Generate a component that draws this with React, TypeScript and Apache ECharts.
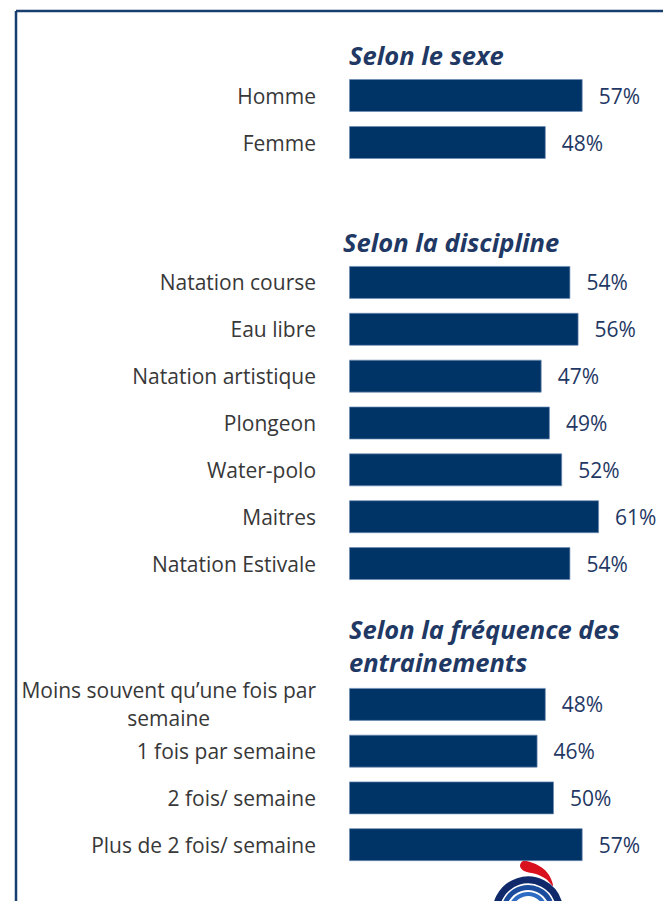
import React, { useEffect, useRef } from "react";
import * as echarts from "echarts";

const sexCategories = ["Homme", "Femme"];
const sexValues = [57, 48];

const disciplineCategories = [
  "Natation course",
  "Eau libre",
  "Natation artistique",
  "Plongeon",
  "Water-polo",
  "Maitres",
  "Natation Estivale",
];
const disciplineValues = [54, 56, 47, 49, 52, 61, 54];

const frequencyCategories = [
  "Moins souvent qu\u2019une fois par\nsemaine",
  "1 fois par semaine",
  "2 fois/ semaine",
  "Plus de 2 fois/ semaine",
];
const frequencyValues = [48, 46, 50, 57];

const sectionTitles = [
  "Selon le sexe",
  "Selon la discipline",
  "Selon la fr\u00e9quence des\nentrainements",
];

const FONT = "'Open Sans', 'Noto Sans', sans-serif";
const BAR = "#003366";
const NAVY = "#1F3864";
const GREY = "#383838";

export default function App() {
  const ref = useRef<HTMLDivElement>(null);

  useEffect(() => {
    if (!ref.current) return;
    const chart = echarts.init(ref.current, undefined, { renderer: "svg" });

    const sections = [
      { cats: sexCategories, vals: sexValues, top: 72, height: 94 },
      { cats: disciplineCategories, vals: disciplineValues, top: 259, height: 328 },
      { cats: frequencyCategories, vals: frequencyValues, top: 681, height: 187 },
    ];

    const grids = sections.map((s) => ({
      left: 349,
      width: 287,
      top: s.top,
      height: s.height,
      containLabel: false,
      outerBoundsMode: "none",
    }));

    const xAxes = sections.map((_, i) => ({
      type: "value",
      gridIndex: i,
      min: 0,
      max: 70,
      show: false,
    }));

    const yAxes = sections.map((s, i) => ({
      type: "category",
      gridIndex: i,
      inverse: true,
      data: s.cats,
      axisLine: { show: false },
      axisTick: { show: false },
      splitLine: { show: false },
      axisLabel: {
        margin: 33,
        color: GREY,
        fontSize: 21,
        fontFamily: FONT,
        formatter: (v: string) =>
          v
            .split("\n")
            .map((l) => `{c|${l}}`)
            .join("\n"),
        rich: {
          c: {
            align: "center",
            color: GREY,
            fontSize: 21,
            fontFamily: FONT,
            lineHeight: 28,
          },
        },
      },
    }));

    const series = sections.map((s, i) => ({
      type: "bar",
      xAxisIndex: i,
      yAxisIndex: i,
      data: s.vals,
      barWidth: 33,
      itemStyle: {
        color: BAR,
        borderColor: "rgba(110,140,180,0.7)",
        borderWidth: 1,
      },
      label: {
        show: true,
        position: "right",
        distance: 16,
        formatter: "{c}%",
        color: NAVY,
        fontSize: 21,
        fontFamily: FONT,
      },
    }));

    const titleTops = [38, 225, 612];
    const titleLefts = [349, 343, 349];
    const titles = sectionTitles.map((t, i) => ({
      text: t,
      left: titleLefts[i],
      top: titleTops[i],
      padding: 0,
      textStyle: {
        color: NAVY,
        fontSize: 25.5,
        fontWeight: "bold",
        fontStyle: "italic",
        fontFamily: FONT,
        lineHeight: 33,
      },
    }));

    const cx = 528;
    const cy = 912;
    const graphic = [
      {
        type: "line",
        shape: { x1: 16, y1: 11, x2: 663, y2: 11 },
        style: { stroke: "#173E6E", lineWidth: 2.5 },
      },
      {
        type: "line",
        shape: { x1: 16, y1: 11, x2: 16, y2: 901 },
        style: { stroke: "#173E6E", lineWidth: 2.5 },
      },
      {
        type: "polygon",
        shape: {
          points: [
            [520, 866],
            [523, 861],
            [530, 862],
            [541, 867],
            [549, 875],
            [553, 886],
            [546, 879],
            [536, 874],
            [524, 871],
          ],
          smooth: 0.35,
        },
        style: { fill: "#D9101E" },
      },
      {
        type: "arc",
        shape: { cx, cy, r: 32, startAngle: Math.PI * 0.9, endAngle: Math.PI * 1.9, clockwise: true },
        style: { stroke: "#10296B", lineWidth: 7, fill: "none" },
      },
      {
        type: "arc",
        shape: { cx, cy, r: 24.5, startAngle: Math.PI * 0.95, endAngle: Math.PI * 1.86, clockwise: true },
        style: { stroke: "#1B4B9C", lineWidth: 5, fill: "none" },
      },
      {
        type: "arc",
        shape: { cx, cy, r: 18, startAngle: Math.PI * 1.0, endAngle: Math.PI * 1.82, clockwise: true },
        style: { stroke: "#2E6BC2", lineWidth: 4, fill: "none" },
      },
    ];

    chart.setOption({
      animation: false,
      backgroundColor: "#ffffff",
      title: titles,
      grid: grids,
      xAxis: xAxes,
      yAxis: yAxes,
      series,
      graphic,
    } as any);

    return () => chart.dispose();
  }, []);

  return (
    <div
      ref={ref}
      style={{ position: "absolute", left: 0, top: 0, width: 663, height: 901 }}
    />
  );
}
